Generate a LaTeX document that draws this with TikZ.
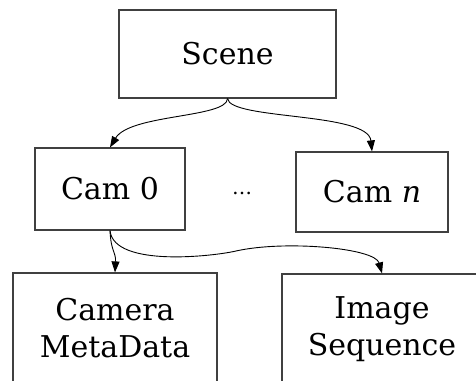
\documentclass[tikz,border=0pt]{standalone}
\usepackage{fontspec}
\setmainfont{DejaVu Serif}
\usepackage{tikz}
\usetikzlibrary{positioning}
\usetikzlibrary{arrows.meta}

\begin{document}
\begin{tikzpicture}[x=1pt,y=-1pt,
  box/.style={draw=black!75,line width=1.2pt,inner sep=0pt,align=center,font=\fontsize{30}{37}\selectfont},
  arr/.style={-{Triangle[length=11pt,width=8pt]},line width=0.9pt}]
\useasboundingbox (0,0) rectangle (476,380);

% nodes
\node[box,minimum width=217pt,minimum height=88pt] (scene) at (227.5,54) {Scene};
\node[box,minimum width=150pt,minimum height=82pt] (cam0) at (110,189) {Cam 0};
\node[box,minimum width=152pt,minimum height=80pt] (camn) at (372,192) {Cam \textit{n}};
\node[font=\fontsize{20}{24}\selectfont,anchor=base] (dots) at (242,194) {…};
\node[box,minimum width=204pt,minimum height=110pt] (metadata) at (115,328) {Camera\\MetaData};
\node[box,minimum width=200pt,minimum height=110pt] (imageseq) at (382,329) {Image\\Sequence};

% edges
\draw[arr] (scene.south) .. controls (227,118) and (130,114) .. (cam0.north);
\draw[arr] (scene.south) .. controls (230,120) and (368,112) .. (camn.north);
\draw[arr] (cam0.south) .. controls (111,252) and (116,252) .. (metadata.north);
\draw[arr] (cam0.south) .. controls (114,268) and (215,256) .. (236,251)
  .. controls (285,240) and (375,248) .. (imageseq.north);
\end{tikzpicture}
\end{document}
